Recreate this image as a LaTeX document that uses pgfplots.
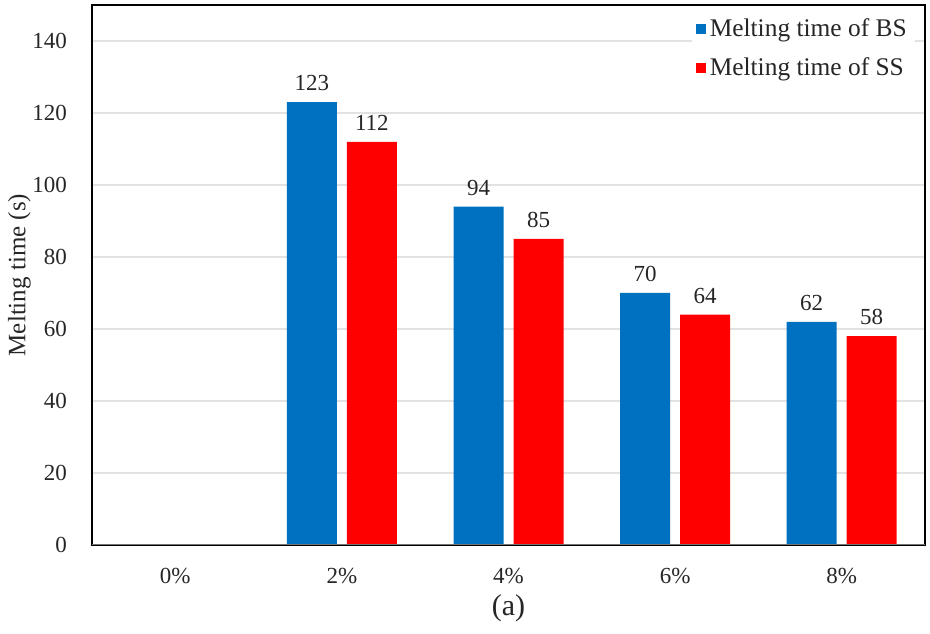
\documentclass[border=0pt]{standalone}
\usepackage{pgfplots}
\pgfplotsset{compat=1.18}
\usepackage{fontspec}
\setmainfont{Liberation Serif}
\definecolor{bsblue}{HTML}{0070C0}
\definecolor{ssred}{HTML}{FF0000}
\definecolor{gridgray}{HTML}{E2E2E2}
\begin{document}
\begin{tikzpicture}
\begin{axis}[
  scale only axis,
  width=416.5pt, height=270pt,
  xmin=-0.5, xmax=4.5,
  ymin=0, ymax=150,
  xtick={0,1,2,3,4},
  xticklabels={0\%,2\%,4\%,6\%,8\%},
  ytick={0,20,40,60,80,100,120,140},
  major tick length=0pt,
  /pgf/number format/assume math mode=true,
  tick label style={font=\fontsize{11.5}{13}\selectfont, text=black!85},
  yticklabel style={xshift=-9pt},
  xticklabel style={yshift=-8pt},
  ymajorgrids,
  grid style={gridgray, line width=0.8pt},
  axis line style={black, line width=1pt},
  ylabel={Melting time (s)},
  ylabel style={font=\fontsize{12.5}{14}\selectfont, text=black!85, yshift=-6pt},
  xlabel={(a)},
  xlabel style={font=\fontsize{15}{17}\selectfont, text=black!85, yshift=1.5pt},
  ybar,
  bar width=25pt,
  nodes near coords,
  nodes near coords style={font=\fontsize{11.5}{13}\selectfont, text=black!85, yshift=2pt},
  legend style={at={(rel axis cs:0.988,0.99)}, anchor=north east, draw=none, fill=white,
    font=\fontsize{12.7}{14}\selectfont, text=black!85, row sep=5pt, inner sep=2pt},
  legend cell align=left,
  legend image code/.code={\fill (0pt,-2.5pt) rectangle (5pt,2.5pt);},
]
\addplot[fill=bsblue, draw=none, bar shift=-15pt] coordinates {(1,123) (2,94) (3,70) (4,62)};
\addlegendentry{Melting time of BS}
\addplot[fill=ssred, draw=none, bar shift=15pt] coordinates {(1,112) (2,85) (3,64) (4,58)};
\addlegendentry{Melting time of SS}
\draw[black!55, line width=0.8pt] (rel axis cs:0,0) -- (rel axis cs:1,0);
\end{axis}
\pgfresetboundingbox
\path ([xshift=-46pt,yshift=-44.5pt]current axis.south west) rectangle ([xshift=2.5pt,yshift=2.5pt]current axis.north east);
\end{tikzpicture}
\end{document}
